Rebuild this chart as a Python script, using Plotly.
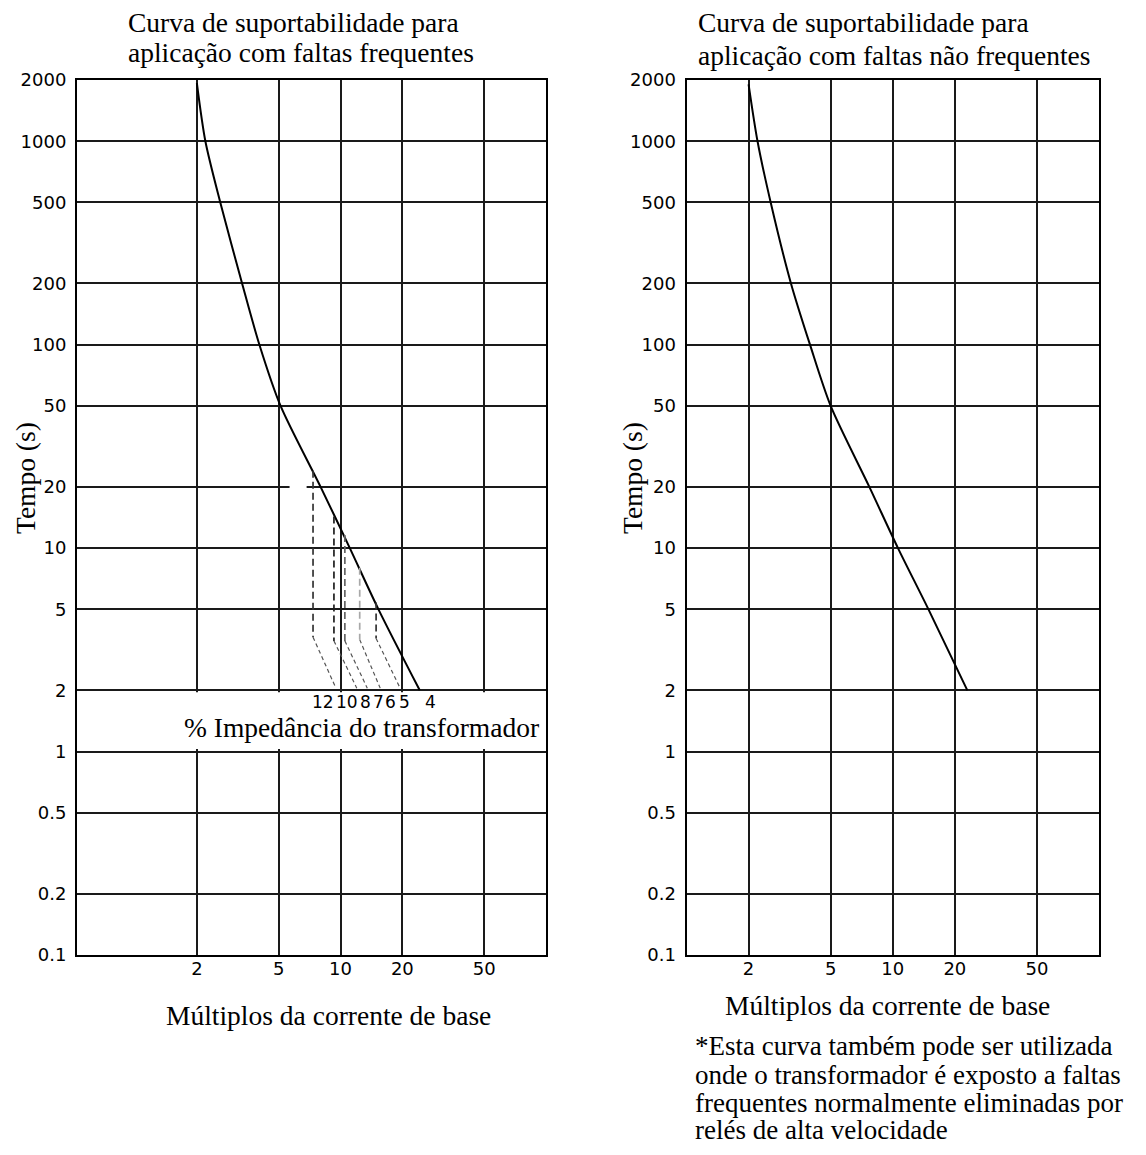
import math
import plotly.graph_objects as go

# ---------------- data ----------------
x_tickvals = [2, 5, 10, 20, 50]
x_ticktext = ["2", "5", "10", "20", "50"]
y_tickvals = [0.1, 0.2, 0.5, 1, 2, 5, 10, 20, 50, 100, 200, 500, 1000, 2000]
y_ticktext = ["0.1", "0.2", "0.5", "1", "2", "5", "10", "20", "50", "100", "200", "500", "1000", "2000"]

# frequent-fault withstand curve (left panel)
freq_current = [2.0, 2.20, 2.60, 3.32, 4.03, 5.11, 8.0, 11.1, 15.3, 24.3]
freq_time = [1930, 1000, 500, 200, 100, 50, 20, 10, 5, 2]

# infrequent-fault withstand curve (right panel)
infreq_current = [2.0, 2.21, 2.56, 3.21, 3.97, 5.0, 7.7, 10.6, 14.9, 23.0]
infreq_time = [1905, 1000, 500, 200, 100, 50, 20, 10, 5, 2]

# dashed branches for transformer impedance (%)
imp_values = [12, 10, 8, 7, 6]
imp_vert_current = [7.35, 9.29, 10.5, 12.4, 14.9]
imp_vert_top = [24.0, 14.3, 11.6, 8.0, 5.4]
imp_vert_bottom = [3.65, 3.5, 3.5, 3.55, 3.6]
imp_diag_current = [9.5, 12.0, 13.5, 15.6, 19.5]
imp_diag_time = [2.05, 2.05, 2.05, 2.05, 2.05]
imp_colors = ["#333333", "#1f1f1f", "#666666", "#a8a8a8", "#333333"]

imp_labels = ["12", "10", "8", "7", "6", "5", "4"]
imp_label_current = [8.23, 10.7, 13.2, 15.3, 17.6, 20.4, 27.5]
imp_label_time = 1.76

# ---------------- layout helpers ----------------
# the page body keeps its default 8 px margin, so the figure starts at (8, 8)
W, H = 1138, 1139
OFF = 8


def px(x):
    return (x - OFF) / W


def py(y):
    return 1 - (y - OFF) / H


SERIF = "Liberation Serif, Times New Roman, serif"
SANS = "DejaVu Sans, Arial, sans-serif"
TXT = 27.5

fig = go.Figure()

# main curves
fig.add_trace(go.Scatter(x=freq_current, y=freq_time, mode="lines",
                         line=dict(color="black", width=2, shape="spline", smoothing=0.8),
                         xaxis="x", yaxis="y", showlegend=False, hoverinfo="skip"))
fig.add_trace(go.Scatter(x=infreq_current, y=infreq_time, mode="lines",
                         line=dict(color="black", width=2, shape="spline", smoothing=0.8),
                         xaxis="x2", yaxis="y2", showlegend=False, hoverinfo="skip"))

# dashed impedance branches
for i, z in enumerate(imp_values):
    fig.add_trace(go.Scatter(x=[imp_vert_current[i], imp_vert_current[i]],
                             y=[imp_vert_top[i], imp_vert_bottom[i]], mode="lines",
                             line=dict(color=imp_colors[i], width=1.7, dash="7px,4px"),
                             xaxis="x", yaxis="y", showlegend=False, hoverinfo="skip"))
    fig.add_trace(go.Scatter(x=[imp_vert_current[i], imp_diag_current[i]],
                             y=[imp_vert_bottom[i], imp_diag_time[i]], mode="lines",
                             line=dict(color="#555555", width=1.2, dash="4px,3px"),
                             xaxis="x", yaxis="y", showlegend=False, hoverinfo="skip"))

axis_common = dict(type="log", showgrid=True, gridcolor="#1a1a1a", gridwidth=1.6,
                   showline=True, mirror=True, linecolor="black", linewidth=2,
                   ticks="", zeroline=False, automargin=False,
                   tickfont=dict(family=SANS, size=18, color="black"))

ydom = [py(955), py(80)]
fig.update_layout(
    width=W, height=H,
    margin=dict(l=0, r=0, t=0, b=0, autoexpand=False),
    paper_bgcolor="white", plot_bgcolor="white",
    showlegend=False,
    xaxis=dict(axis_common, domain=[px(77), px(546)], anchor="y",
               range=[math.log10(0.522), 2], tickvals=x_tickvals, ticktext=x_ticktext,
               ticklabelstandoff=-4),
    yaxis=dict(axis_common, domain=ydom, anchor="x",
               range=[-1, math.log10(2000)], tickvals=y_tickvals, ticktext=y_ticktext,
               ticklabelstandoff=5),
    xaxis2=dict(axis_common, domain=[px(686.5), px(1099)], anchor="y2",
                range=[0, 2], tickvals=x_tickvals, ticktext=x_ticktext,
                ticklabelstandoff=-4),
    yaxis2=dict(axis_common, domain=ydom, anchor="x2",
                range=[-1, math.log10(2000)], tickvals=y_tickvals, ticktext=y_ticktext,
                ticklabelstandoff=5),
)

# white band under the 2 s line (left panel) and gap in the 20 s gridline
fig.add_shape(type="rect", xref="x", yref="y", x0=0.54, x1=100, y0=1.03, y1=1.955,
              fillcolor="white", line=dict(width=0), layer="between")
fig.add_shape(type="line", xref="x", yref="y", x0=5.65, x1=6.84, y0=20, y1=20,
              line=dict(color="white", width=4), layer="between")

ann = []
for lab, xc in zip(imp_labels, imp_label_current):
    ann.append(dict(x=math.log10(xc), y=math.log10(imp_label_time), xref="x", yref="y",
                    text=lab, showarrow=False, font=dict(family=SANS, size=17, color="black"),
                    xanchor="center", yanchor="middle"))


def text(x, y, s, xanchor="left", angle=0, size=TXT):
    ann.append(dict(x=px(x), y=py(y), xref="paper", yref="paper", text=s, showarrow=False,
                    font=dict(family=SERIF, size=size, color="black"),
                    xanchor=xanchor, yanchor="middle", textangle=angle))


text(361, 727, "% Impedância do transformador", "center")
text(126, 22, "Curva de suportabilidade para")
text(126, 53, "aplicação com faltas frequentes")
text(696, 23, "Curva de suportabilidade para")
text(696, 56, "aplicação com faltas não frequentes")
text(328, 1015, "Múltiplos da corrente de base", "center")
text(887, 1005, "Múltiplos da corrente de base", "center")
text(25, 478, "Tempo (s)", "center", -90)
text(632, 478, "Tempo (s)", "center", -90)
text(693, 1046, "*Esta curva também pode ser utilizada", size=27)
text(693, 1075, "onde o transformador é exposto a faltas", size=27)
text(693, 1103, "frequentes normalmente eliminadas por", size=27)
text(693, 1130, "relés de alta velocidade", size=27)
fig.update_layout(annotations=ann)

fig.write_html("out.html", config={"displayModeBar": False})
